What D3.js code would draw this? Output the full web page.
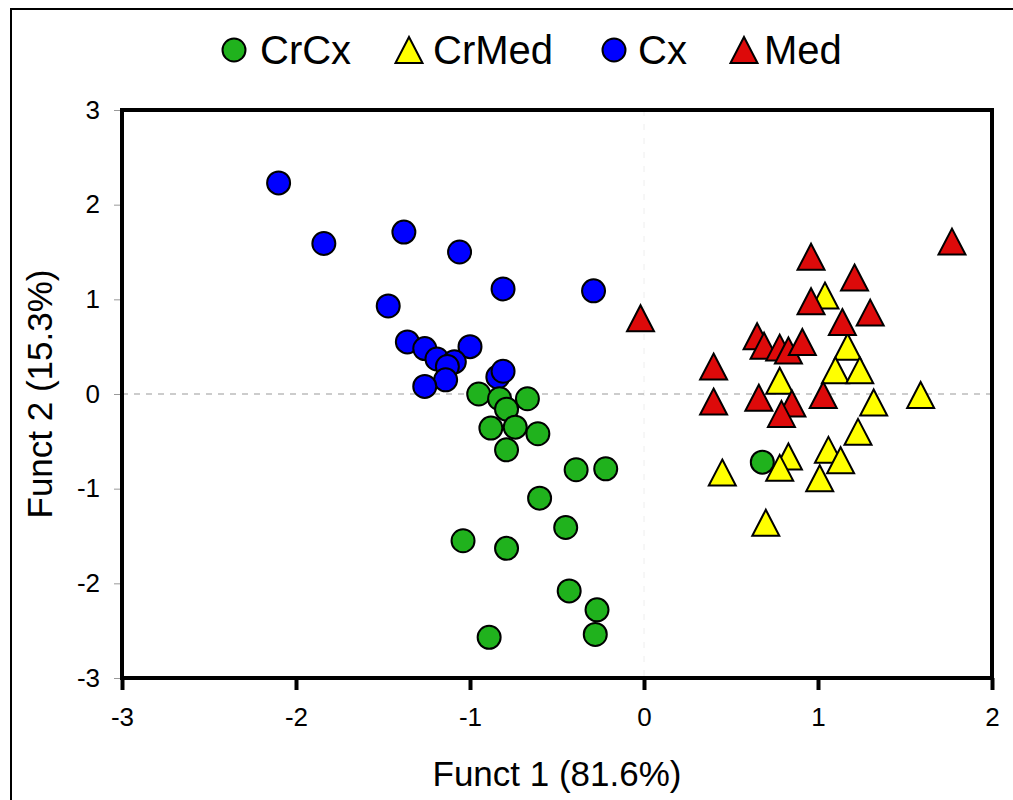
<!DOCTYPE html>
<html>
<head>
<meta charset="utf-8">
<script src="https://cdn.jsdelivr.net/npm/d3@7"></script>
<style>
  body { margin: 0; background: #fff; }
  svg { display: block; font-family: "Liberation Sans", Arial, sans-serif; }
</style>
</head>
<body>
<div id="chart"></div>
<script>
// data: [Funct 1, Funct 2]
const crCx = [
  [-0.95, 0.00], [-0.83, -0.05], [-0.67, -0.05], [-0.79, -0.16], [-0.88, -0.36],
  [-0.74, -0.35], [-0.61, -0.42], [-0.79, -0.59], [-0.39, -0.80], [-0.22, -0.79],
  [-0.60, -1.10], [-0.45, -1.41], [-1.04, -1.55], [-0.79, -1.63], [-0.43, -2.08],
  [-0.27, -2.28], [-0.28, -2.54], [-0.89, -2.57], [0.68, -0.72]
];
const cx = [
  [-2.10, 2.23], [-1.84, 1.59], [-1.38, 1.71], [-1.06, 1.50], [-0.81, 1.11],
  [-0.29, 1.09], [-1.47, 0.93], [-1.36, 0.55], [-1.26, 0.48], [-1.00, 0.50],
  [-1.19, 0.37], [-1.09, 0.34], [-1.13, 0.29], [-1.14, 0.15], [-1.26, 0.08],
  [-0.84, 0.18], [-0.81, 0.24]
];
const med = [
  [-0.02, 0.80], [0.96, 1.45], [1.21, 1.23], [1.77, 1.61], [0.96, 0.98],
  [1.30, 0.86], [1.14, 0.76], [0.65, 0.61], [0.69, 0.51], [0.78, 0.49],
  [0.83, 0.46], [0.91, 0.55], [0.40, 0.29], [0.40, -0.08], [0.66, -0.04],
  [0.85, -0.10], [0.79, -0.21], [1.03, -0.01]
];
const crMed = [
  [1.04, 1.04], [1.17, 0.50], [1.10, 0.25], [1.24, 0.25], [0.78, 0.14],
  [1.59, -0.01], [1.32, -0.09], [1.23, -0.40], [1.06, -0.59], [1.13, -0.70],
  [0.83, -0.66], [0.78, -0.78], [0.45, -0.83], [1.01, -0.89], [0.70, -1.36]
];
const xTicks = [-3, -2, -1, 0, 1, 2];
const yTicks = [-3, -2, -1, 0, 1, 2, 3];

const width = 1013, height = 800;
const plot = {left: 122, right: 992, top: 110, bottom: 678};

const svg = d3.select("#chart").append("svg")
    .attr("width", width)
    .attr("height", height);

// outer frame
svg.append("rect")
    .attr("x", 11).attr("y", 9)
    .attr("width", width + 20).attr("height", height + 20)
    .attr("fill", "none").attr("stroke", "#000").attr("stroke-width", 2);

let x = d3.scaleLinear().domain([-3, 2]).range([plot.left, plot.right]);
let y = d3.scaleLinear().domain([-3, 3]).range([plot.bottom, plot.top]);

// zero lines
svg.append("line")
    .attr("x1", x(0)).attr("x2", x(0))
    .attr("y1", plot.top).attr("y2", plot.bottom)
    .attr("stroke", "#eee").attr("stroke-dasharray", "6,8");
svg.append("line")
    .attr("x1", plot.left).attr("x2", plot.right)
    .attr("y1", y(0)).attr("y2", y(0))
    .attr("stroke", "#999").attr("stroke-dasharray", "6,6");

// axes
let xAxis = svg.append("g")
    .attr("transform", `translate(0, ${plot.bottom})`)
    .call(d3.axisBottom(x).tickValues(xTicks).tickSize(12).tickPadding(18).tickFormat(d => String(d)));
xAxis.select(".domain").remove();
xAxis.selectAll("line").attr("stroke", "#000").attr("stroke-width", 4);
xAxis.selectAll("text").style("font-size", "26px").attr("fill", "#000");

let yAxis = svg.append("g")
    .attr("transform", `translate(${plot.left}, 0)`)
    .call(d3.axisLeft(y).tickValues(yTicks).tickSize(8).tickPadding(14).tickFormat(d => String(d)));
yAxis.select(".domain").remove();
yAxis.selectAll("line").attr("stroke", "#999").attr("stroke-width", 1);
yAxis.selectAll("text").style("font-size", "26px").attr("fill", "#000");

// plot frame
svg.append("rect")
    .attr("x", plot.left).attr("y", plot.top)
    .attr("width", plot.right - plot.left).attr("height", plot.bottom - plot.top)
    .attr("fill", "none").attr("stroke", "#000").attr("stroke-width", 4);

// axis titles
svg.append("text")
    .attr("x", (plot.left + plot.right) / 2).attr("y", 786)
    .style("text-anchor", "middle").style("font-size", "35px")
    .text("Funct 1 (81.6%)");
svg.append("text")
    .attr("transform", `translate(52, ${y(0)}) rotate(-90)`)
    .style("text-anchor", "middle").style("font-size", "35px")
    .text("Funct 2 (15.3%)");

const tri = "M0,-13L13.5,13L-13.5,13Z";
const colors = {crCx: "#20b21d", crMed: "#ffff00", cx: "#0000ff", med: "#dd0a0a"};

function drawCircles(data, fill) {
    svg.append("g").selectAll("circle").data(data).enter()
        .append("circle")
        .attr("cx", d => x(d[0]))
        .attr("cy", d => y(d[1]))
        .attr("r", 11.5)
        .attr("fill", fill)
        .attr("stroke", "#000").attr("stroke-width", 2);
}
function drawTriangles(data, fill) {
    svg.append("g").selectAll("path").data(data).enter()
        .append("path")
        .attr("d", tri)
        .attr("transform", d => `translate(${x(d[0])}, ${y(d[1])})`)
        .attr("fill", fill)
        .attr("stroke", "#000").attr("stroke-width", 2);
}

drawTriangles(crMed, colors.crMed);
drawTriangles(med, colors.med);
drawCircles(cx, colors.cx);
drawCircles(crCx, colors.crCx);

// legend
const legend = [
    {name: "CrCx", shape: "circle", fill: colors.crCx, sx: 234, tx: 260},
    {name: "CrMed", shape: "tri", fill: colors.crMed, sx: 409, tx: 433},
    {name: "Cx", shape: "circle", fill: colors.cx, sx: 614, tx: 638},
    {name: "Med", shape: "tri", fill: colors.med, sx: 744, tx: 764}
];
legend.forEach(function(l) {
    if (l.shape === "circle") {
        svg.append("circle").attr("cx", l.sx).attr("cy", 50).attr("r", 11.5)
            .attr("fill", l.fill).attr("stroke", "#000").attr("stroke-width", 2);
    } else {
        svg.append("path").attr("d", tri).attr("transform", `translate(${l.sx}, 50)`)
            .attr("fill", l.fill).attr("stroke", "#000").attr("stroke-width", 2);
    }
    svg.append("text").attr("x", l.tx).attr("y", 64)
        .style("font-size", "40px").text(l.name);
});
</script>
</body>
</html>
